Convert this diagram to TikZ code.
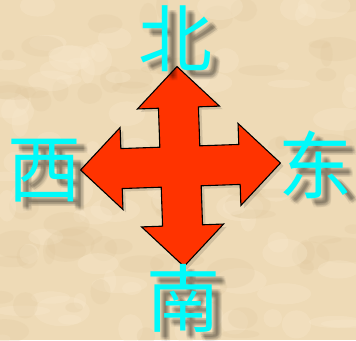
\documentclass[tikz,border=0pt]{standalone}
\usepackage{fontspec}
\newfontfamily\cjk{Noto Sans CJK SC}
\definecolor{parch}{RGB}{238,218,182}
\definecolor{parchlight}{RGB}{248,232,204}
\definecolor{parchdark}{RGB}{222,198,156}
\definecolor{arrowred}{RGB}{255,51,0}
\definecolor{dircyan}{RGB}{0,250,250}
\tikzset{
  dirlabel/.style={font=\cjk\fontsize{74}{74}\selectfont, text=dircyan, inner sep=0pt},
  dirshadow/.style={font=\cjk\fontsize{74}{74}\selectfont, text=black, text opacity=0.05, inner sep=0pt},
  quadarrow/.style={fill=arrowred, draw=black, line width=1.1pt, line join=miter}
}
\begin{document}
\begin{tikzpicture}[x=1pt,y=-1pt]
\useasboundingbox (0,0) rectangle (356,340);
% parchment background
\fill[parch] (0,0) rectangle (356,340);
\pgfmathsetseed{11}
\begin{scope}
\clip (0,0) rectangle (356,340);
\foreach \i in {1,...,160}{
  \pgfmathsetmacro{\px}{rnd*356}
  \pgfmathsetmacro{\py}{rnd*340}
  \pgfmathsetmacro{\rx}{6+rnd*22}
  \pgfmathsetmacro{\ry}{4+rnd*12}
  \pgfmathsetmacro{\rr}{rnd}
  \ifdim\rr pt<0.5pt
    \fill[parchlight, opacity=0.35] (\px,\py) ellipse [x radius=\rx, y radius=\ry];
  \else
    \fill[parchdark, opacity=0.22] (\px,\py) ellipse [x radius=\rx, y radius=\ry];
  \fi
}
\end{scope}
% centre of the arrow
\coordinate (c) at (180.5,166.5);
% arrow shadow
\begin{scope}[shift={(c)}, rotate=2, xshift=3pt, yshift=-3pt]
\fill[black, opacity=0.12]
 (0,-100) -- (41,-59) -- (20,-59) -- (20,-20) -- (59,-20) -- (59,-41) -- (100,0)
 -- (59,41) -- (59,20) -- (20,20) -- (20,59) -- (41,59) -- (0,100)
 -- (-41,59) -- (-20,59) -- (-20,20) -- (-59,20) -- (-59,41) -- (-100,0)
 -- (-59,-41) -- (-59,-20) -- (-20,-20) -- (-20,-59) -- (-41,-59) -- cycle;
\end{scope}
% the four-way arrow
\begin{scope}[shift={(c)}, rotate=2]
\draw[quadarrow]
 (0,-100) coordinate (tipN) -- (41,-59) -- (20,-59) -- (20,-20) -- (59,-20) -- (59,-41) -- (100,0) coordinate (tipE)
 -- (59,41) -- (59,20) -- (20,20) -- (20,59) -- (41,59) -- (0,100) coordinate (tipS)
 -- (-41,59) -- (-20,59) -- (-20,20) -- (-59,20) -- (-59,41) -- (-100,0) coordinate (tipW)
 -- (-59,-41) -- (-59,-20) -- (-20,-20) -- (-20,-59) -- (-41,-59) -- cycle;
\end{scope}
% label shadows
\foreach \dx/\dy in {6/5,7/6,8/7,9/8,10/9,8/5,6/7,10/7,7/9,9/5}{
  \node[dirshadow] at ([xshift=\dx pt, yshift=-\dy pt]175,39) {北};
  \node[dirshadow] at ([xshift=\dx pt, yshift=-\dy pt]45,171) {西};
  \node[dirshadow] at ([xshift=\dx pt, yshift=-\dy pt]315,165) {东};
  \node[dirshadow] at ([xshift=\dx pt, yshift=-\dy pt]183,298) {南};
}
% labels
\node[dirlabel] (north) at (175,39) {北};
\node[dirlabel] (west) at (45,171) {西};
\node[dirlabel] (east) at (315,165) {东};
\node[dirlabel] (south) at (183,298) {南};
\end{tikzpicture}
\end{document}
